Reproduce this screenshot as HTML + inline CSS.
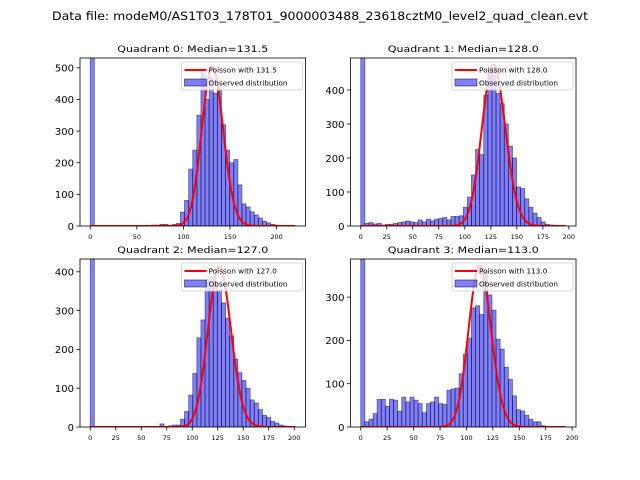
<!DOCTYPE html>
<html><head><meta charset="utf-8"><style>
body{margin:0;background:#fff;}
svg{display:block;font-family:"DejaVu Sans","Liberation Sans",sans-serif;}
</style></head><body>
<svg id="fig" width="640" height="480" viewBox="0 0 640 480">
<rect width="640" height="480" fill="#fff"/>
<text x="320" y="20" text-anchor="middle" font-size="11.5" textLength="536" lengthAdjust="spacingAndGlyphs">Data file: modeM0/AS1T03_178T01_9000003488_23618cztM0_level2_quad_clean.evt</text>
</svg>
<script>
const titles=["Quadrant 0: Median=131.5","Quadrant 1: Median=128.0","Quadrant 2: Median=127.0","Quadrant 3: Median=113.0"];
const medians=[131.5,128.0,127.0,113.0];
const binWidths=[4.4,3.94,4.02,3.88];
const peaks=[505,473,414,372];
const xMaxData=[220,197,201,194];
const yMaxes=[531,494,433,388];
const xTicks=[[0,50,100,150,200],[0,25,50,75,100,125,150,175,200],[0,25,50,75,100,125,150,175,200],[0,25,50,75,100,125,150,175,200]];
const yTicks=[[0,100,200,300,400,500],[0,100,200,300,400],[0,100,200,300,400],[0,100,200,300]];
const counts0=[2000,0,0,0,0,0,0,0,0,0,0,0,0,0,0,3,3,5,5,2,5,8,44,81,180,240,350,500,400,470,420,440,320,240,200,210,130,70,60,45,35,25,15,10,5,3,0,0,0,0];
const counts1=[2000,8,10,6,8,3,5,5,8,10,12,15,12,10,18,12,20,15,20,22,25,18,28,28,30,55,85,150,225,210,385,460,465,390,360,300,235,200,115,110,80,55,38,25,12,5,3,2,2,1];
const counts2=[2000,0,0,0,0,0,0,0,0,0,0,0,0,0,0,0,0,8,0,3,5,5,20,40,82,138,230,276,380,385,375,355,320,280,235,175,140,120,100,70,62,45,30,25,15,10,5,3,1,1];
const counts3=[2000,12,18,31,64,64,48,64,62,36,69,58,69,62,54,33,54,58,69,54,52,85,88,90,123,168,205,275,280,260,360,305,270,203,180,138,110,72,40,37,27,18,12,12,3,1,0,0,0,0];
const allCounts=[counts0,counts1,counts2,counts3];
const boxes=[{l:80,r:305.5,t:58,b:226},{l:350.5,r:576,t:58,b:226},{l:80,r:305.5,t:259,b:427},{l:350.5,r:576,t:259,b:427}];
const NS="http://www.w3.org/2000/svg";
const svg=document.getElementById('fig');
function mk(tag,attrs,parent){const e=document.createElementNS(NS,tag);for(const k in attrs)e.setAttribute(k,attrs[k]);(parent||svg).appendChild(e);return e;}
function lgamma(z){
  let s=0; while(z<7){s-=Math.log(z);z+=1;}
  return s+(z-0.5)*Math.log(z)-z+0.5*Math.log(2*Math.PI)+1/(12*z)-1/(360*z*z*z);
}
function logpmf(k,l){return k*Math.log(l)-l-lgamma(k+1);}
for(let q=0;q<4;q++){
  const B=boxes[q],counts=allCounts[q],bw=binWidths[q];
  const nb=counts.length, dmax=xMaxData[q], m=dmax*0.05;
  const x0=-m,x1=dmax+m;
  const X=v=>B.l+(v-x0)/(x1-x0)*(B.r-B.l);
  const Y=v=>B.b-v/yMaxes[q]*(B.b-B.t);
  const g=mk('g',{});
  
  
  const cid='clip'+q;
  const cp=mk('clipPath',{id:cid},g);mk('rect',{x:B.l,y:B.t,width:B.r-B.l,height:B.b-B.t},cp);
  const plot=mk('g',{'clip-path':'url(#'+cid+')'},g);
  for(let i=0;i<nb;i++){
    if(counts[i]<=0)continue;
    const r=mk('rect',{x:X(i*bw),y:Y(counts[i]),width:X((i+1)*bw)-X(i*bw),height:Y(0)-Y(counts[i]),fill:'rgba(0,0,255,0.5)',stroke:'rgba(0,0,0,0.5)','stroke-width':'0.8'},plot);
    
    
  }
  const lam=medians[q], mode=Math.floor(lam), ref=logpmf(mode,lam);
  let d='';
  for(let k=0;k<=dmax;k+=1){const v=peaks[q]*Math.exp(logpmf(k,lam)-ref);d+=(k?'L':'M')+X(k).toFixed(2)+','+Y(v).toFixed(2);}
  const pl=mk('path',{d:d,fill:'none',stroke:'#ff0000','stroke-width':'2'},plot);
  
  
  const fr=mk('rect',{x:B.l,y:B.t,width:B.r-B.l,height:B.b-B.t,fill:'none',stroke:'#000','stroke-width':'0.8'},g);
  
  
  xTicks[q].forEach(t=>{
    mk('line',{x1:X(t),x2:X(t),y1:B.b,y2:B.b+3.5,stroke:'#000','stroke-width':'0.8'},g);
    const tx=mk('text',{x:X(t),y:B.b+13,'text-anchor':'middle','font-size':'6.5'},g);
    tx.textContent=t;
    
    
  });
  yTicks[q].forEach(t=>{
    mk('line',{x1:B.l-3.5,x2:B.l,y1:Y(t),y2:Y(t),stroke:'#000','stroke-width':'0.8'},g);
    const tx=mk('text',{x:B.l-6,y:Y(t)+3.8,'text-anchor':'end','font-size':'10'},g);
    tx.textContent=t;
    
    
  });
  const tt=mk('text',{x:(B.l+B.r)/2,y:B.t-6,'text-anchor':'middle','font-size':'9',textLength:'151',lengthAdjust:'spacingAndGlyphs'},g);
  tt.textContent=titles[q];
  
  
  const lw=121, lx=B.r-lw-3, ly=B.t+4;
  const lg=mk('g',{},g);
  
  
  mk('rect',{x:lx,y:ly,width:lw,height:28,rx:2,fill:'rgba(255,255,255,0.8)',stroke:'#ccc','stroke-width':'0.8'},lg);
  mk('line',{x1:lx+3,x2:lx+25,y1:ly+8,y2:ly+8,stroke:'#ff0000','stroke-width':'2'},lg);
  const t1=mk('text',{x:lx+27,y:ly+10.5,'font-size':'7.3'},lg);t1.textContent='Poisson with '+lam.toFixed(1);
  
  
  mk('rect',{x:lx+3,y:ly+17,width:22,height:7,fill:'rgba(0,0,255,0.5)',stroke:'rgba(0,0,0,0.6)','stroke-width':'0.8'},lg);
  const t2=mk('text',{x:lx+27,y:ly+23.5,'font-size':'7.3'},lg);t2.textContent='Observed distribution';
  
  
}
</script>
</body></html>
